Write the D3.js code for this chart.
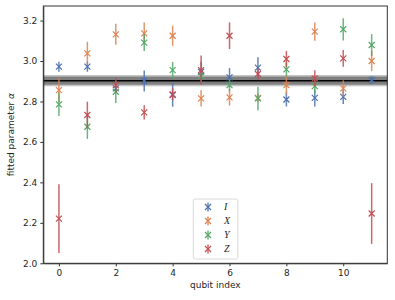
<!DOCTYPE html>
<html>
<head>
<meta charset="utf-8">
<script src="https://cdn.jsdelivr.net/npm/d3@7"></script>
<style>
  body { margin: 0; background: white; }
  svg { display: block; }
  .tick text { font-family: "DejaVu Sans", sans-serif; font-size: 9px; fill: #262626; }
  .tick line, .domain { stroke: #333; }
</style>
</head>
<body>
<script>
// qubit positions
const qubits = [0, 1, 2, 3, 4, 5, 6, 7, 8, 9, 10, 11];

// fitted alpha values per Pauli + uncertainty
const alphaI = [2.972, 2.972, 2.865, 2.901, 2.832, 2.947, 2.919, 2.967, 2.810, 2.818, 2.823, 2.906];
const errI   = [0.025, 0.025, 0.020, 0.052, 0.058, 0.050, 0.046, 0.052, 0.035, 0.043, 0.035, 0.020];
const alphaX = [2.856, 3.038, 3.132, 3.137, 3.125, 2.815, 2.820, 2.818, 2.881, 3.145, 2.865, 3.000];
const errX   = [0.060, 0.057, 0.052, 0.053, 0.050, 0.040, 0.040, 0.020, 0.045, 0.045, 0.040, 0.050];
const alphaY = [2.786, 2.675, 2.848, 3.091, 2.955, 2.926, 2.881, 2.815, 2.959, 2.876, 3.157, 3.079];
const errY   = [0.058, 0.060, 0.055, 0.041, 0.040, 0.020, 0.030, 0.058, 0.035, 0.035, 0.055, 0.054];
const alphaZ = [2.221, 2.733, 2.881, 2.746, 2.835, 2.955, 3.125, 2.936, 3.010, 2.914, 3.013, 2.246];
const errZ   = [0.170, 0.066, 0.036, 0.035, 0.030, 0.072, 0.066, 0.030, 0.040, 0.040, 0.041, 0.150];

const seriesNames = ["I", "X", "Y", "Z"];
const seriesColors = ["#4c72b0", "#dd8452", "#55a868", "#c44e52"];

// mean value and its bands
const meanAlpha = 2.903;
const bandOuter = 0.028;
const bandInner = 0.020;

const yTicks = [2.0, 2.2, 2.4, 2.6, 2.8, 3.0, 3.2];
const xTicks = [0, 2, 4, 6, 8, 10];

const W = 395, H = 300;
const mLeft = 43.3, mRight = 387.3, mTop = 6, mBottom = 263.3;

const svg = d3.select("body").append("svg")
    .attr("width", W)
    .attr("height", H);

const x = d3.scaleLinear().domain([-0.55, 11.55]).range([mLeft, mRight]);
const y = d3.scaleLinear().domain([2.0, 3.272]).range([mBottom, mTop]);

// band + mean line
svg.append("rect")
    .attr("x", mLeft).attr("width", mRight - mLeft)
    .attr("y", y(meanAlpha + bandOuter))
    .attr("height", y(meanAlpha - bandOuter) - y(meanAlpha + bandOuter))
    .attr("fill", "#c4c4c4");
svg.append("rect")
    .attr("x", mLeft).attr("width", mRight - mLeft)
    .attr("y", y(meanAlpha + bandInner))
    .attr("height", y(meanAlpha - bandInner) - y(meanAlpha + bandInner))
    .attr("fill", "#7f7f7f");
svg.append("line")
    .attr("x1", mLeft).attr("x2", mRight)
    .attr("y1", y(meanAlpha)).attr("y2", y(meanAlpha))
    .attr("stroke", "black").attr("stroke-width", 1.5);

const series = [
    { vals: alphaI, errs: errI },
    { vals: alphaX, errs: errX },
    { vals: alphaY, errs: errY },
    { vals: alphaZ, errs: errZ }
];

const drawX = (g, cx, cy, s, color) => {
    g.append("path")
        .attr("d", `M${cx - s},${cy - s}L${cx + s},${cy + s}M${cx - s},${cy + s}L${cx + s},${cy - s}`)
        .attr("stroke", color).attr("stroke-width", 1.2).attr("fill", "none");
};

series.forEach((s, i) => {
    const g = svg.append("g");
    const color = seriesColors[i];
    qubits.forEach((q, j) => {
        g.append("line")
            .attr("x1", x(q)).attr("x2", x(q))
            .attr("y1", y(s.vals[j] - s.errs[j]))
            .attr("y2", y(s.vals[j] + s.errs[j]))
            .attr("stroke", color).attr("stroke-width", 1.5)
            .attr("opacity", 0.85);
        drawX(g, x(q), y(s.vals[j]), 3, color);
    });
});

// axes
svg.append("g")
    .attr("transform", `translate(0,${mBottom})`)
    .call(d3.axisBottom(x).tickValues(xTicks).tickSize(3).tickPadding(3).tickSizeOuter(0));
svg.append("g")
    .attr("transform", `translate(${mLeft},0)`)
    .call(d3.axisLeft(y).tickValues(yTicks).tickFormat(d3.format(".1f")).tickSize(3).tickPadding(3).tickSizeOuter(0));

// frame
svg.append("rect")
    .attr("x", mLeft).attr("y", mTop)
    .attr("width", mRight - mLeft).attr("height", mBottom - mTop)
    .attr("fill", "none").attr("stroke", "#333").attr("stroke-width", 1);

// labels
svg.append("text")
    .attr("x", (mLeft + mRight) / 2).attr("y", 288)
    .attr("text-anchor", "middle")
    .style("font-family", "DejaVu Sans, sans-serif").style("font-size", "9px")
    .attr("fill", "#262626")
    .text("qubit index");

const ylab = svg.append("text")
    .attr("transform", `translate(14,${(mTop + mBottom) / 2}) rotate(-90)`)
    .attr("text-anchor", "middle")
    .style("font-family", "DejaVu Sans, sans-serif").style("font-size", "9px")
    .attr("fill", "#262626");
ylab.append("tspan").text("fitted parameter ");
ylab.append("tspan").style("font-style", "italic").text("α");

// legend
const lg = svg.append("g");
lg.append("rect")
    .attr("x", 193.3).attr("y", 199)
    .attr("width", 44.5).attr("height", 60)
    .attr("rx", 2)
    .attr("fill", "white").attr("fill-opacity", 0.8)
    .attr("stroke", "#d0d0d0").attr("stroke-width", 0.8);

seriesNames.forEach((name, i) => {
    const ly = 207 + i * 14;
    lg.append("line")
        .attr("x1", 208).attr("x2", 208)
        .attr("y1", ly - 4.5).attr("y2", ly + 4.5)
        .attr("stroke", seriesColors[i]).attr("stroke-width", 1.5).attr("opacity", 0.85);
    drawX(lg, 208, ly, 3, seriesColors[i]);
    lg.append("text")
        .attr("x", 224).attr("y", ly + 3.2)
        .style("font-family", "Liberation Serif, serif").style("font-style", "italic")
        .style("font-size", "10px")
        .attr("fill", "#262626")
        .text(name);
});
</script>
</body>
</html>
